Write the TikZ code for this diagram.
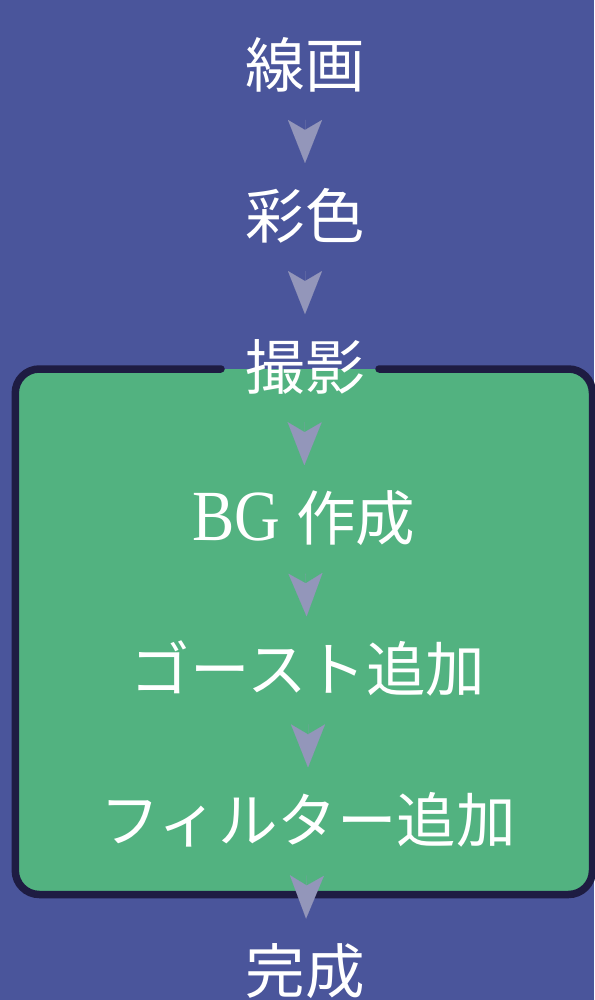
\documentclass[tikz,border=0pt]{standalone}
\usepackage{fontspec}
\setmainfont{Liberation Serif}
\newfontfamily\cjk{Noto Sans CJK JP}
\newfontfamily\latin[FakeStretch=0.88]{Liberation Serif}
\usetikzlibrary{arrows.meta}
\definecolor{bgc}{RGB}{74,85,155}
\definecolor{groupc}{RGB}{82,178,128}
\definecolor{borderc}{RGB}{30,28,66}
\definecolor{arrowc}{RGB}{147,150,186}
\tikzset{
  stepnode/.style={font=\cjk\fontsize{59.5}{62}\selectfont, text=white, inner sep=0pt, text height=45.2pt, text depth=0pt},
  flow/.style={draw=arrowc, fill=arrowc, line width=0.01pt, shorten <=55.5pt, shorten >=52.6pt,
    -{Stealth[length=43pt,width=34pt,inset=10pt]}},
  groupborder/.style={draw=borderc, line width=7.5pt, line cap=round, rounded corners=24pt}
}
\begin{document}
\begin{tikzpicture}[x=1pt,y=-1pt]
\useasboundingbox (0,0) rectangle (594,1000);
\fill[bgc] (0,0) rectangle (594,1000);
\fill[groupc, rounded corners=24pt] (15.3,369) rectangle (592.5,894.5);
\draw[groupborder] (379,369) -- (592.5,369) -- (592.5,894.5) -- (15.3,894.5) -- (15.3,369) -- (221,369);
\node[stepnode] (n1) at (305,64.5) {線画};
\node[stepnode] (n2) at (305,215.6) {彩色};
\node[stepnode] (n3) at (305,366.7) {撮影};
\node[stepnode] (n4) at (304,517.8) {{\latin\fontsize{72}{74}\selectfont BG\ }作成};
\node[stepnode] (n5) at (308,668.9) {ゴースト追加};
\node[stepnode] (n6) at (308,820) {フィルター追加};
\node[stepnode] (n7) at (305,971.1) {完成};
\draw[flow] (n1.center) -- (n2.center);
\draw[flow] (n2.center) -- (n3.center);
\draw[flow] (n3.center) -- (n4.center);
\draw[flow] (n4.center) -- (n5.center);
\draw[flow] (n5.center) -- (n6.center);
\draw[flow] (n6.center) -- (n7.center);
\end{tikzpicture}
\end{document}
